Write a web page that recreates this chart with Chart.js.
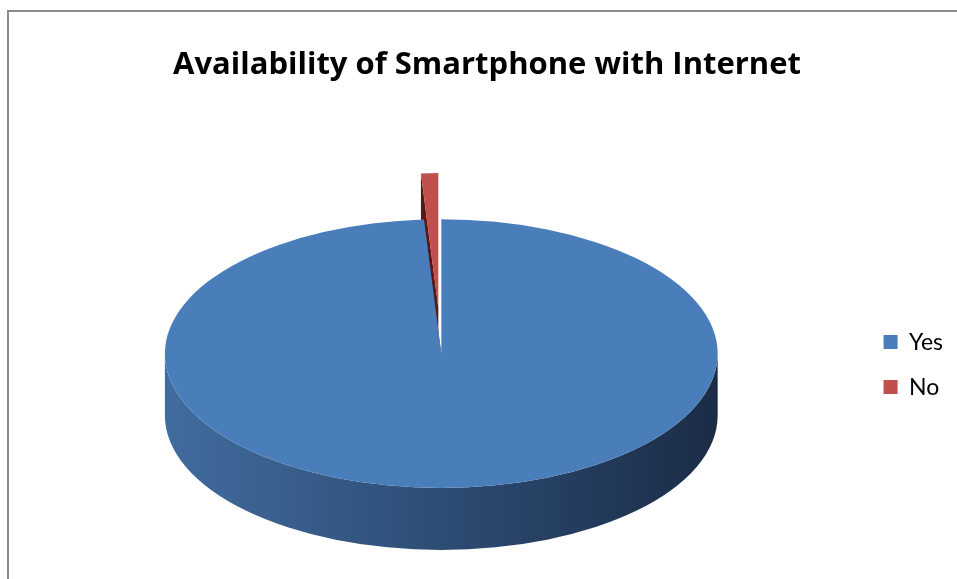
<!DOCTYPE html>
<html>
<head>
<meta charset="utf-8">
<script src="https://cdn.jsdelivr.net/npm/chart.js@4.4.1/dist/chart.umd.min.js"></script>
<style>
  html, body { margin: 0; padding: 0; background: #fff; overflow: hidden; }
  #frame { position: absolute; left: 7px; top: 10px; width: 1000px; height: 1000px; border: 2px solid #8a8a8a; }
  #chart { position: absolute; left: 21px; top: 12px; }
</style>
</head>
<body>
<div id="frame"></div>
<canvas id="chart" width="932" height="629"></canvas>
<script>
var labels = ["Yes", "No"];
var values = [99, 1];
var colors = ["#4a7ebb", "#c0504d"];

// look of the 3D disc
var tilt = 0.486;         // vertical squash of the disc
var depth = 62;           // thickness in px
var lift = 11;            // disc sits a little above the plot centre
var explodeBy = [0, 95];  // how far each slice is pulled out
var sideStops = [
    ["#416c9e", "#2f5079", "#1b2c46"],
    ["#8e2e2b", "#5a1614", "#3f0f0e"]
];
var wallColors = ["#2c4a70", "#5a1715"];

// intersect [s, e] with the front half of the disc (sin > 0)
function frontParts(s, e) {
    var parts = [];
    for (var n = -1; n <= 2; n++) {
        var a = Math.max(s, n * 2 * Math.PI);
        var b = Math.min(e, n * 2 * Math.PI + Math.PI);
        if (b > a) parts.push([a, b]);
    }
    return parts;
}

function drawSlice(ctx, arc, i) {
    var p = arc.getProps(["x", "y", "startAngle", "endAngle", "outerRadius"]);
    var mid = (p.startAngle + p.endAngle) / 2;
    var ex = explodeBy[i] || 0;
    var r = p.outerRadius;
    var ry = r * tilt;
    var cx = p.x + Math.cos(mid) * ex;
    var cy = p.y - lift + Math.sin(mid) * ex * tilt;

    // radial walls
    ctx.fillStyle = wallColors[i];
    [p.startAngle, p.endAngle].forEach(function (a) {
        var x1 = cx + r * Math.cos(a);
        var y1 = cy + ry * Math.sin(a);
        ctx.beginPath();
        ctx.moveTo(cx, cy);
        ctx.lineTo(x1, y1);
        ctx.lineTo(x1, y1 + depth);
        ctx.lineTo(cx, cy + depth);
        ctx.closePath();
        ctx.fill();
    });

    // outer rim, only the part facing us
    var grad = ctx.createLinearGradient(cx - r, 0, cx + r, 0);
    grad.addColorStop(0, sideStops[i][0]);
    grad.addColorStop(0.45, sideStops[i][1]);
    grad.addColorStop(1, sideStops[i][2]);
    frontParts(p.startAngle, p.endAngle).forEach(function (seg) {
        ctx.beginPath();
        ctx.ellipse(cx, cy, r, ry, 0, seg[0], seg[1], false);
        ctx.ellipse(cx, cy + depth, r, ry, 0, seg[1], seg[0], true);
        ctx.closePath();
        ctx.fillStyle = grad;
        ctx.fill();
    });

    // top face
    ctx.beginPath();
    ctx.moveTo(cx, cy);
    ctx.ellipse(cx, cy, r, ry, 0, p.startAngle, p.endAngle, false);
    ctx.closePath();
    ctx.fillStyle = arc.options.backgroundColor;
    ctx.fill();
}

var pie3d = {
    id: "pie3d",
    beforeDatasetsDraw: function (chart) {
        var ctx = chart.ctx;
        var arcs = chart.getDatasetMeta(0).data;
        // back slices first
        var order = arcs.map(function (a, i) { return i; }).sort(function (a, b) {
            var ma = (arcs[a].startAngle + arcs[a].endAngle) / 2;
            var mb = (arcs[b].startAngle + arcs[b].endAngle) / 2;
            return Math.sin(ma) - Math.sin(mb);
        });
        ctx.save();
        order.forEach(function (i) { drawSlice(ctx, arcs[i], i); });
        ctx.restore();
        return false;
    }
};

new Chart(document.getElementById("chart").getContext("2d"), {
    type: "pie",
    data: {
        labels: labels,
        datasets: [{
            data: values,
            backgroundColor: colors,
            borderWidth: 0
        }]
    },
    options: {
        responsive: false,
        animation: false,
        events: [],
        plugins: {
            title: {
                display: true,
                text: "Availability of Smartphone with Internet",
                color: "#000",
                font: { family: "Open Sans", size: 31, weight: "bold", lineHeight: 1.2 },
                padding: { top: 35, bottom: 4 }
            },
            legend: {
                position: "right",
                fullSize: false,
                labels: {
                    boxWidth: 14,
                    boxHeight: 14,
                    padding: 22,
                    color: "#000",
                    font: { family: "Lato", size: 23 }
                }
            },
            tooltip: { enabled: false }
        }
    },
    plugins: [pie3d]
});
</script>
</body>
</html>
